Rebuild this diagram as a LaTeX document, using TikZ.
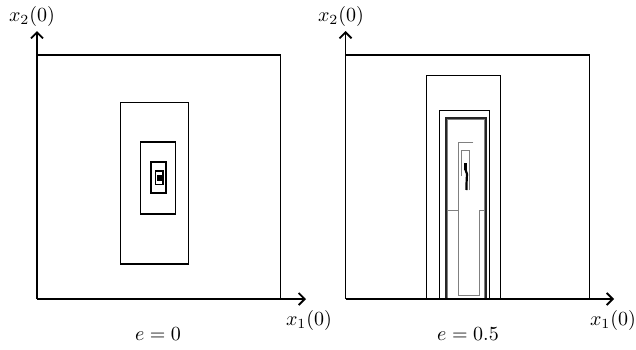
\documentclass[tikz,border=0pt]{standalone}
\usetikzlibrary{arrows.meta}
\begin{document}
\begin{tikzpicture}[x=0.5pt,y=-0.5pt,
  axisline/.style={line width=0.8pt,-{Straight Barb[length=3pt,width=6pt,line width=0.9pt]}},
  frame/.style={line width=0.6pt},
  boxa/.style={line width=0.6pt},
  boxthick/.style={line width=1.1pt, draw=black!85},
  greyline/.style={line width=0.45pt, draw=black!50},
  lbl/.style={inner sep=0pt}]
\useasboundingbox (0,0) rectangle (636,349);
% ---------- left panel ----------
\coordinate (Lo) at (37,299);
\coordinate (Ly) at (37,31);
\coordinate (Lx) at (306,299);
\draw[frame] (37,55) -- (280.5,55) -- (280.5,299);
\draw[axisline] (Lo) -- (Ly);
\draw[axisline] (Lo) -- (Lx);
\node[lbl] (lx2) at (32,16) {$x_2(0)$};
\node[lbl] (lx1) at (309,320) {$x_1(0)$};
\node[lbl] (le) at (158,334) {$e=0$};
\draw[boxa] (120.5,102.5) rectangle (188.5,264);
\draw[boxa,line width=0.7pt] (140.5,142) rectangle (175.5,214);
\draw[boxa,line width=0.8pt] (151,162) rectangle (166,193);
\draw[boxa,line width=0.8pt] (155.3,170.7) rectangle (162.7,184.3);
\fill[black] (156.7,175) rectangle (161.7,180.7);
% ---------- right panel ----------
\coordinate (Ro) at (345.5,299);
\coordinate (Ry) at (345.5,31);
\coordinate (Rx) at (614,299);
\draw[frame] (345.5,55) -- (589.3,55) -- (589.3,299);
\draw[boxa] (426.3,299) -- (426.3,75.7) -- (500.3,75.7) -- (500.3,299);
\draw[boxa,line width=0.7pt] (439.5,299) -- (439.5,110.7) -- (489.3,110.7) -- (489.3,299);
\draw[boxthick] (445.6,299) -- (445.6,117.8) -- (486,117.8) -- (486,299);
\draw[greyline,line width=0.6pt] (447.6,299) -- (447.6,119.8) -- (484.2,119.8) -- (484.2,299);
\draw[greyline] (473.3,142.7) -- (458.3,142.7) -- (458.3,295.3) -- (479.3,295.3) -- (479.3,210.7) -- (484.2,210.7);
\draw[greyline] (447.6,210.7) -- (458.3,210.7);
\draw[greyline] (461.7,176) -- (461.7,150.7) -- (469.3,150.7) -- (469.3,190);
\fill[black] (464.2,163) rectangle (466.6,170);
\draw[line width=1.1pt] (465.3,169) -- (467,174) -- (466.6,182) -- (466.4,190);
\draw[axisline] (Ro) -- (Ry);
\draw[axisline] (Ro) -- (Rx);
\node[lbl] (rx2) at (341,16) {$x_2(0)$};
\node[lbl] (rx1) at (613,320) {$x_1(0)$};
\node[lbl] (re) at (468,334) {$e=0.5$};
\end{tikzpicture}
\end{document}
